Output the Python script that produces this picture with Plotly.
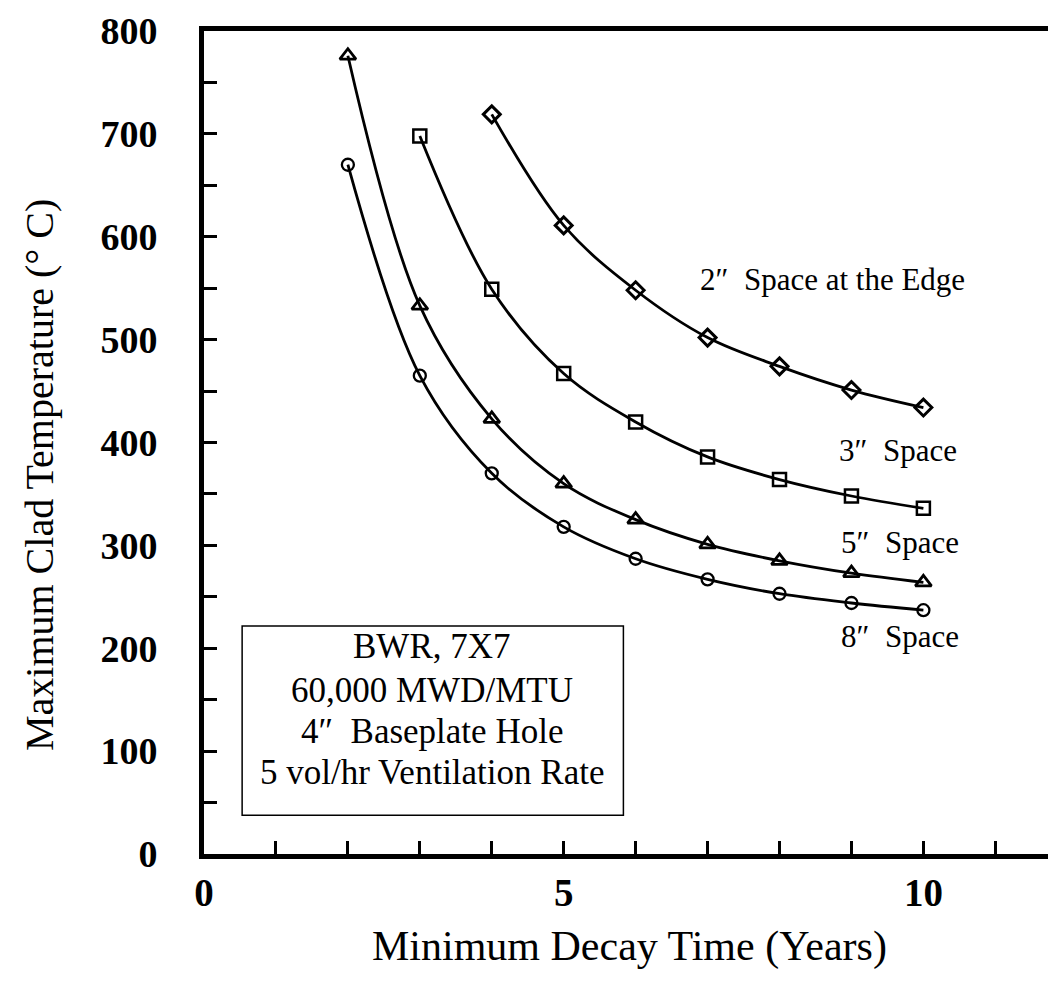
import plotly.graph_objects as go

# ---- data ----
years_2in = [4, 5, 6, 7, 8, 9, 10]
temp_2in = [719, 611, 548, 502, 474, 451, 434]

years_3in = [3, 4, 5, 6, 7, 8, 9, 10]
temp_3in = [698, 549, 467, 420, 386, 364, 348, 336]

years_5in = [2, 3, 4, 5, 6, 7, 8, 9, 10]
temp_5in = [776, 533, 423, 360, 325, 301, 285, 273, 264]

years_8in = [2, 3, 4, 5, 6, 7, 8, 9, 10]
temp_8in = [670, 465, 370, 318, 287, 267, 253, 244, 237]

series_labels = ["2\u2033  Space at the Edge", "3\u2033  Space", "5\u2033  Space", "8\u2033  Space"]
x_tick_vals = [0, 5, 10]
y_tick_vals = [0, 100, 200, 300, 400, 500, 600, 700, 800]
box_lines = ["BWR, 7X7", "60,000 MWD/MTU", "4\u2033  Baseplate Hole", "5 vol/hr Ventilation Rate"]

FONT = "Liberation Serif, Times New Roman, serif"

fig = go.Figure()

series = [
    (years_2in, temp_2in, "diamond-open", 13, 3),
    (years_3in, temp_3in, "square-open", 13, 2.5),
    (years_5in, temp_5in, "triangle-up-open", 14, 2.8),
    (years_8in, temp_8in, "circle-open", 12, 2.3),
]
for (xs, ys, sym, sz, lw), name in zip(series, series_labels):
    fig.add_trace(go.Scatter(
        x=xs, y=ys, mode="lines+markers", name=name,
        line=dict(color="black", width=2.8, shape="spline", smoothing=1.0),
        marker=dict(symbol=sym, size=sz, color="black", line=dict(color="black", width=lw)),
        showlegend=False,
    ))

# curve labels
label_pos = [(6.86, 558), (8.80, 392), (8.82, 303), (8.83, 211)]
for (lx, ly), txt in zip(label_pos, series_labels):
    fig.add_annotation(x=lx, y=ly, xref="x", yref="y", text=txt, showarrow=False,
                       xanchor="left", yanchor="middle",
                       font=dict(family=FONT, size=31, color="black"))

# info box
fig.add_shape(type="rect", xref="x", yref="y", x0=0.53, x1=5.83, y0=37.6, y1=221.7,
              line=dict(color="black", width=1.5), fillcolor="white", layer="above")
box_line_y = [201.4, 159.0, 119.5, 79.0]
for ly, txt in zip(box_line_y, box_lines):
    fig.add_annotation(x=3.17, y=ly, xref="x", yref="y", text=txt, showarrow=False,
                       xanchor="center", yanchor="middle",
                       font=dict(family=FONT, size=35, color="black"))

# axis titles
fig.add_annotation(x=-0.1943, y=0.46, xref="paper", yref="paper",
                   text="Maximum Clad Temperature (\u00b0 C)", textangle=-90, showarrow=False,
                   xanchor="center", yanchor="middle",
                   font=dict(family=FONT, size=40, color="black"))
fig.add_annotation(x=0.503, y=-0.112, xref="paper", yref="paper",
                   text="Minimum Decay Time (Years)", showarrow=False,
                   xanchor="center", yanchor="middle",
                   font=dict(family=FONT, size=42, color="black"))

fig.update_xaxes(
    range=[0, 11.76], tickmode="array", tickvals=x_tick_vals,
    ticktext=[str(v) for v in x_tick_vals],
    ticks="inside", ticklen=13, tickwidth=2.5, tickcolor="black",
    minor=dict(dtick=1, ticks="inside", ticklen=13, tickwidth=2.5, tickcolor="black", showgrid=False),
    showline=True, linewidth=5, linecolor="black", mirror=True,
    showgrid=False, zeroline=False,
    tickfont=dict(family=FONT, size=39, color="black", weight="bold"),
    ticklabelstandoff=0, ticklabeloverflow="allow", automargin=False,
)
fig.update_yaxes(
    range=[0, 800], tickmode="array", tickvals=y_tick_vals,
    ticktext=[str(v) for v in y_tick_vals],
    ticks="inside", ticklen=13, tickwidth=2.5, tickcolor="black",
    minor=dict(dtick=50, ticks="inside", ticklen=13, tickwidth=2.5, tickcolor="black", showgrid=False),
    showline=True, linewidth=5, linecolor="black", mirror=True,
    showgrid=False, zeroline=False,
    tickfont=dict(family=FONT, size=38, color="black", weight="bold"),
    ticklabelstandoff=34, ticklabeloverflow="allow", automargin=False,
)

fig.update_layout(
    width=1048, height=988,
    margin=dict(l=196, r=6, t=23, b=142, autoexpand=False),
    paper_bgcolor="white", plot_bgcolor="white",
)

fig.write_html("out.html")
